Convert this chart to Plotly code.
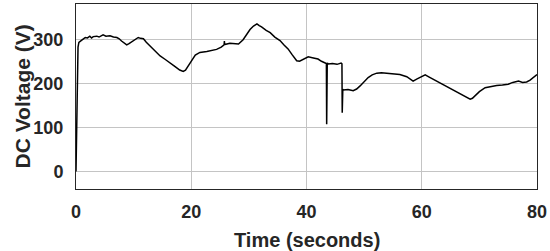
"""
DC bus voltage over time
"""
import plotly.graph_objects as go

# values
time_s = [0, 0.15, 0.35, 0.5, 0.7, 1.0, 1.3, 1.6, 2.0, 2.4, 2.7, 3.0, 3.6, 4.0,
          4.7, 5.2, 5.9, 6.5, 7.1, 7.5, 7.9, 8.4, 8.8, 9.2, 9.7, 10.2, 10.8, 11.2,
          11.7, 12.2, 12.8, 13.5, 14.6, 15.5, 16.3, 17.2, 18.0, 18.6, 19.0, 19.5,
          20.1, 20.7, 21.5, 22.7, 23.5, 24.4, 25.2, 25.7, 25.75, 25.8, 26.7, 27.5,
          28.2, 29.0, 29.6, 30.2, 30.8, 31.4, 31.8, 32.2, 33.0, 33.7, 34.5, 35.4,
          36.1, 36.8, 37.5, 38.3, 38.8, 39.4, 40.3, 41.0, 42.0, 42.6, 43.2, 43.45,
          43.5, 43.6, 43.8, 44.5, 45.3, 46.0, 46.15, 46.2, 46.3, 46.4, 47.2, 48.1,
          48.7, 49.3, 50.0, 50.7, 51.4, 52.2, 53.0, 53.9, 55.0, 56.2, 57.4, 58.0,
          58.5, 59.2, 59.7, 60.6, 61.3, 62.0, 63.2, 63.7, 64.5, 65.5, 66.4, 67.2,
          68.0, 68.4, 68.8, 69.2, 70.0, 71.0, 72.0, 73.0, 74.0, 75.0, 75.8, 76.8,
          77.5, 78.2, 78.8, 79.4, 79.8, 80.0]
dc_voltage = [0, 110, 282, 293, 296, 298, 301, 304, 303, 307, 303, 306, 307, 305,
              310, 307, 308, 305, 304, 301, 296, 291, 287, 290, 295, 300, 304, 302,
              301, 293, 285, 276, 262, 254, 247, 238, 230, 227, 230, 239,
              252, 264, 270, 272, 275, 277, 282, 287, 296, 288, 291, 290,
              289, 299, 310, 322, 330, 335, 331, 328, 320, 315, 305, 297,
              287, 278, 265, 251, 250, 254, 260, 258, 255, 250, 247, 245,
              107, 246, 244, 245, 243, 246, 244, 133, 186, 185, 186, 183,
              187, 194, 204, 213, 219, 223, 224, 223, 222, 220, 215, 209,
              205, 210, 213, 219, 214, 209, 201, 198, 192, 185, 178, 173,
              167, 164, 166, 171, 181, 190, 193, 195, 196, 198, 202, 205,
              202, 203, 207, 213, 219, 220]

x_ticks = [0, 20, 40, 60, 80]
y_ticks = [0, 100, 200, 300]

FONT = "Liberation Sans, Arial, sans-serif"
TEXT = "#262626"

fig = go.Figure()

fig.add_trace(go.Scatter(
    x=time_s,
    y=dc_voltage,
    mode="lines",
    line=dict(color="black", width=1.5),
    showlegend=False
))

axis_style = dict(
    showline=True, mirror=True, linecolor=TEXT, linewidth=1,
    showgrid=True, gridcolor="#c4c4c4", gridwidth=1,
    zeroline=False, ticks="", automargin=False,
    tickfont=dict(family=FONT, size=18, color=TEXT, weight="bold"),
)

fig.update_xaxes(range=[0, 80], tickvals=x_ticks, ticklabelstandoff=6, **axis_style)
fig.update_yaxes(range=[-40, 380], tickvals=y_ticks, ticklabelstandoff=8, **axis_style)

# axis titles placed as annotations to match the reference offsets
fig.add_annotation(
    text="<b>Time (seconds)</b>", xref="paper", yref="paper",
    x=0.5, y=0, yshift=-51, yanchor="middle", showarrow=False,
    font=dict(family=FONT, size=20, color=TEXT)
)
fig.add_annotation(
    text="<b>DC Voltage (V)</b>", xref="paper", yref="paper",
    x=0, y=0.5, xshift=-54, xanchor="center", yanchor="middle",
    textangle=-90, showarrow=False,
    font=dict(family=FONT, size=21, color=TEXT)
)

fig.update_layout(
    width=550, height=251,
    margin=dict(l=76, r=13, t=4, b=62),
    paper_bgcolor="white",
    plot_bgcolor="white",
)

# drop the default page margin so the figure sits at the window's corner
fig.write_html("out.html", config={"displayModeBar": False},
               post_script="document.body.style.margin='0';")
